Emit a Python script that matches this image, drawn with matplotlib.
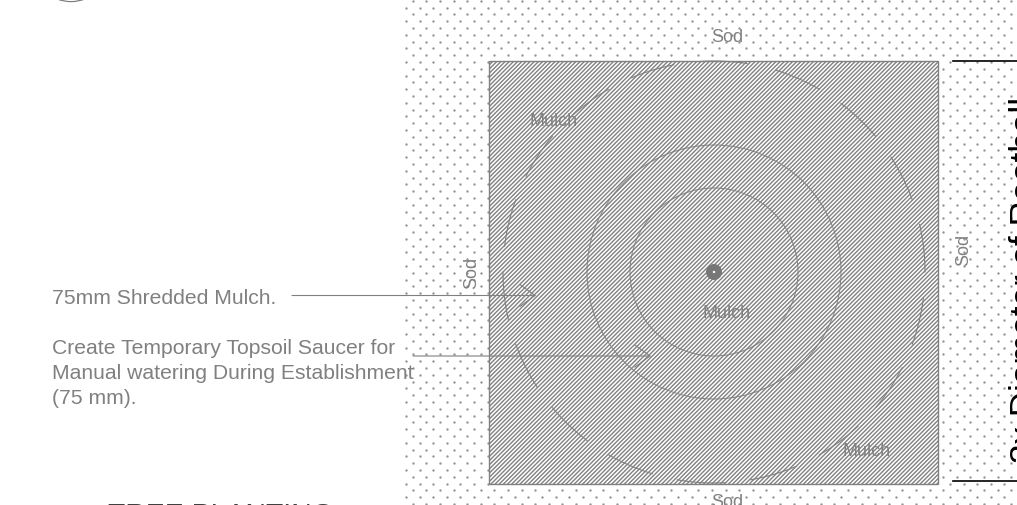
import numpy as np
import matplotlib
matplotlib.use("Agg")
import matplotlib.pyplot as plt
from matplotlib.patches import Rectangle, Circle

plt.rcParams['font.family'] = ['Liberation Sans', 'DejaVu Sans']
plt.rcParams['hatch.linewidth'] = 1.0

GREY = "#808080"

# everything is measured in reference pixels
bed_left, bed_right, bed_top, bed_bottom = 489, 938, 62, 485
tree_x, tree_y = 714, 273
ring_radii = [84, 127]
mulch_radius = 211

# dashes of the outer mulch ring, degrees
dash_start = [-100, -80, -60, -40, -20, 0, 20, 40, 60, 81, 101, 120, 140, 160, 180, 200, 220, 240]
dash_end = [-87, -67, -47, -27, -7, 13, 33, 53, 73, 94, 113, 132, 153, 173, 193, 213, 233, 253]

sod_labels = [(727, 37, 0), (727, 503, 0), (472, 273, 90), (964, 250, 90)]
mulch_labels = [(554, 121), (727, 314), (867, 452)]

note_lines = [(52, 298, "75mm Shredded Mulch."),
              (52, 349, "Create Temporary Topsoil Saucer for"),
              (52, 373.6, "Manual watering During Establishment"),
              (52, 399, "(75 mm).")]
leaders = [(292, 296.5, 536, 296.5), (413, 357, 651, 357)]
dim_lines = [62, 482]

fig = plt.figure(figsize=(10.17, 5.06), dpi=100)
ax = fig.add_axes([0, 0, 1, 1])
ax.set_xlim(0, 1017)
ax.set_ylim(506, 0)
ax.axis("off")

# sod stipple, staggered rows
rows = np.arange(1.7, 506, 6.8)
dots_x, dots_y = [], []
for i, row in enumerate(rows):
    first = 412.8 if i % 2 == 0 else 406
    for col in np.arange(first, 1017, 13.6):
        if bed_left - 1 < col < bed_right + 1 and bed_top - 1 < row < bed_bottom + 1:
            continue
        dots_x.append(col)
        dots_y.append(row)
ax.scatter(dots_x, dots_y, s=3, marker="o", color="#959595", linewidths=0, zorder=1)

# hatched planting bed
ax.add_patch(Rectangle((bed_left, bed_top), bed_right - bed_left, bed_bottom - bed_top,
                       facecolor="white", edgecolor=GREY, hatch="////////", linewidth=1.0, zorder=2))

for r in ring_radii:
    ax.add_patch(Circle((tree_x, tree_y), r, fill=False, edgecolor=GREY, linewidth=0.7, zorder=3))

for a, b in zip(dash_start, dash_end):
    t = np.radians(np.linspace(a, b, 30))
    ax.plot(tree_x + mulch_radius * np.cos(t), tree_y - mulch_radius * np.sin(t),
            color=GREY, linewidth=0.8, zorder=3)

# trunk
ax.add_patch(Circle((tree_x, tree_y), 8, facecolor="#777777", edgecolor="none", zorder=4))
ax.add_patch(Circle((tree_x, tree_y), 1.2, facecolor="white", edgecolor="none", zorder=5))

for x, y, rot in sod_labels:
    ax.text(x, y, "Sod", fontsize=13, color=GREY, ha="center", va="center", rotation=rot, zorder=6)
for x, y in mulch_labels:
    ax.text(x, y, "Mulch", fontsize=13, color=GREY, ha="center", va="center", zorder=6)

for x, y, txt in note_lines:
    ax.text(x, y, txt, fontsize=15.2, color=GREY, ha="left", va="center", zorder=6)

for x0, y0, x1, y1 in leaders:
    ax.annotate("", xy=(x1, y1), xytext=(x0, y0), zorder=6,
                arrowprops=dict(arrowstyle="->,head_length=0.55,head_width=0.4", color=GREY,
                                linewidth=0.8, mutation_scale=20, shrinkA=0, shrinkB=0))

# dimension
for y in dim_lines:
    ax.plot([953, 1017], [y, y], color="black", linewidth=1.2, zorder=6)
ax.text(1035, 463, "3x Diameter of Rootball", fontsize=25.2, color="black", rotation=90,
        rotation_mode="anchor", ha="left", va="baseline", clip_on=False, zorder=7)

# title, cut off by the page
ax.text(108, 523, "TREE PLANTING", fontsize=20.4, color="#404040", ha="left", va="baseline", clip_on=False)
ax.add_patch(Circle((71, -35), 37.6, fill=False, edgecolor=GREY, linewidth=0.9, clip_on=True))

fig.savefig("out.png", dpi=100)
